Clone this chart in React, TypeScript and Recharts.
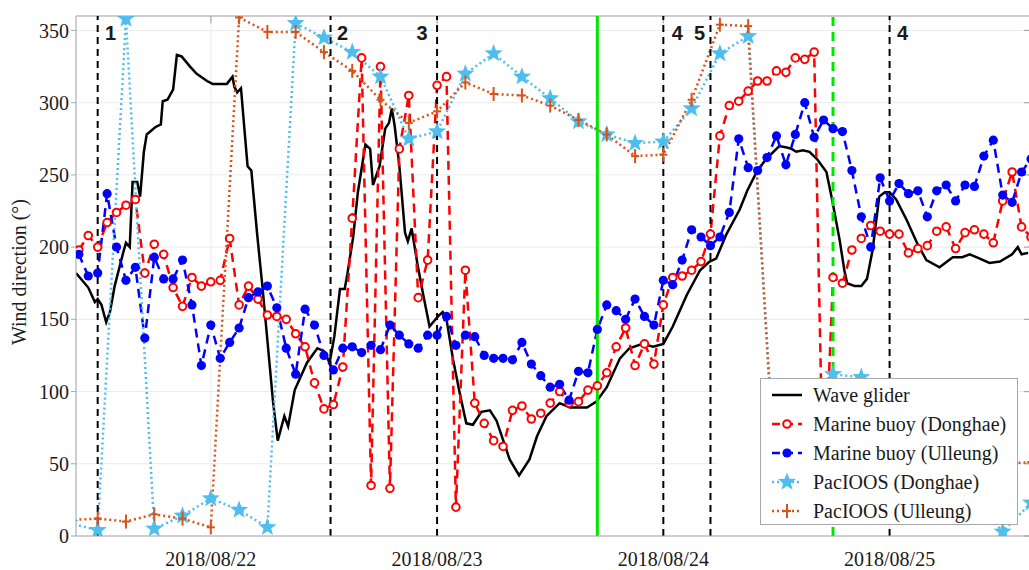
import React from "react";
import { CartesianGrid, Line, LineChart, ReferenceLine, XAxis, YAxis } from "recharts";

// time axis: hours after 2018/08/22 00:00
const dayTicks = [0, 24, 48, 72];
const dayLabels = ["2018/08/22", "2018/08/23", "2018/08/24", "2018/08/25"];
const dirTicks = [0, 50, 100, 150, 200, 250, 300, 350];

const gliderHours = [
  -14.3, -13.0, -12.3, -12.0, -11.6, -11.1, -10.7, -10.2, -9.3, -9.0,
  -8.6, -8.3, -7.8, -7.5, -7.1, -6.8, -5.9, -5.3, -5.1, -4.6,
  -4.0, -3.6, -3.1, -2.2, -1.5, -0.4, 0.2, 1.0, 1.7, 2.3,
  2.5, 2.8, 3.2, 3.6, 3.9, 4.3, 4.9, 5.5, 6.6, 7.1,
  7.8, 8.2, 8.9, 10.2, 11.3, 12.0, 12.6, 13.1, 13.7, 14.2,
  14.5, 15.1, 15.6, 16.4, 16.9, 17.2, 17.9, 18.5, 18.9, 19.2,
  19.5, 20.0, 20.6, 20.9, 21.3, 21.9, 22.5, 23.2, 24.1, 24.6,
  25.0, 25.7, 26.4, 27.1, 27.8, 28.7, 29.6, 30.3, 31.7, 32.7,
  33.8, 34.6, 35.6, 37.0, 38.1, 39.1, 39.9, 40.9, 42.0, 43.4,
  44.4, 45.8, 46.9, 48.0, 49.0, 50.5, 51.9, 52.9, 53.6, 54.7,
  56.1, 56.9, 57.9, 58.9, 60.3, 61.1, 61.6, 62.1, 62.8, 63.5,
  64.3, 65.3, 65.9, 66.7, 67.2, 67.5, 68.3, 69.0, 69.6, 70.2,
  70.9, 71.5, 72.0, 72.7, 73.8, 74.9, 75.9, 77.3, 78.7, 79.7,
  80.5, 81.2, 82.6, 83.7, 85.0, 85.6, 86.0, 86.7
];
const gliderDir = [
  182, 172, 162, 164, 160, 148, 155, 173, 196, 203,
  200, 245, 245, 235, 266, 278, 283, 285, 301, 302,
  309, 333, 332, 325, 320, 315, 313, 313, 313, 318,
  311, 307, 310, 279, 256, 253, 210, 171, 93, 66,
  83, 76, 101, 120, 130, 128, 120, 138, 171, 171,
  182, 207, 238, 271, 268, 243, 256, 282, 286, 296,
  284, 256, 210, 204, 213, 189, 168, 145, 152, 155,
  150, 122, 99, 78, 77, 86, 87, 80, 53, 42,
  53, 69, 83, 92, 89, 89, 89, 93, 103, 123,
  130, 133, 131, 133, 145, 167, 184, 190, 192, 209,
  226, 239, 252, 261, 270, 269, 268, 266, 267, 266,
  261, 252, 233, 205, 184, 175, 173, 173, 178, 198,
  235, 238, 238, 233, 219, 203, 191, 186, 193, 193,
  195, 193, 189, 190, 195, 200, 195, 196
];

// hourly buoy records, first one at 2018/08/21 10:00
const buoyStart = -14;
const buoyDonghae = [
  198, 208, 200, 217, 224, 229, 233, 182, 202, 195,
  172, 159, 179, 173, 176, 177, 206, 160, 173, 164,
  153, 152, 150, 140, 131, 106, 88, 91, 117, 220,
  331, 35, 325, 33, 268, 305, 165, 191, 312, 318,
  20, 184, 92, 78, 66, 62, 87, 90, 81, 85,
  92, 100, 92, 93, 101, 104, 113, 131, 144, 118,
  133, 119, 160, 179, 180, 184, 190, 209, 277, 298,
  301, 308, 315, 315, 322, 321, 331, 330, 335, 20,
  179, 175, 198, 206, 215, 211, 209, 209, 196, 199,
  201, 211, 214, 199, 210, 212, 209, 203, 232, 252,
  214, 207
];
const buoyUlleung = [
  195, 180, 182, 237, 200, 177, 186, 137, 193, 178,
  178, 191, 160, 118, 146, 123, 134, 144, 165, 169,
  173, 158, 130, 112, 157, 146, 125, 115, 130, 131,
  127, 132, 129, 146, 139, 133, 130, 139, 139, 152,
  132, 139, 138, 125, 123, 123, 122, 134, 119, 111,
  103, 105, 94, 114, 113, 143, 160, 156, 150, 164,
  152, 146, 177, 174, 191, 212, 207, 201, 207, 224,
  275, 255, 253, 262, 277, 257, 278, 300, 276, 288,
  282, 280, 253, 221, 200, 248, 232, 244, 237, 239,
  221, 239, 243, 232, 243, 242, 263, 274, 236, 231,
  252, 261
];

// 3-hourly PacIOOS model output, first one at 2018/08/21 09:00
const modelStart = -15;
const pacDonghae = [
  9, 4, 358, 5, 14, 26, 18, 6, 355, 345,
  335, 318, 275, 280, 320, 334, 318, 303, 287, 278,
  272, 273, 296, 334, 346, 30, 80, 112, 110, 95,
  75, 50, 25, 3, 23
];
const pacUlleung = [
  11, 12, 10, 15, 12, 6, 359, 349, 349, 335,
  322, 302, 286, 294, 314, 306, 305, 298, 288, 278,
  263, 264, 302, 354, 353, 20, 35, 45, 50, 48,
  52, 50, 48, 50, 51
];

// event markers
const events = [
  { h: -12, label: "1", dx: 13 },
  { h: 12.7, label: "2", dx: 12 },
  { h: 24, label: "3", dx: -15 },
  { h: 48, label: "4", dx: 14 },
  { h: 53, label: "5", dx: -11 },
  { h: 72, label: "4", dx: 13 }
];
const greenSolidHour = 41;
const greenDashHour = 66;

const X_MIN = -14.3;
const X_MAX = 87;
const Y_MAX = 360;

const RED = "#ff0000";
const BLUE = "#0000ff";
const CYAN = "#4dbeee";
const ORANGE = "#d95319";
const AXIS = "#a8a8a8";
const SERIF = "'Liberation Serif', 'Times New Roman', serif";

const glider = gliderHours.map((h, i) => ({ h, v: gliderDir[i] }));
const donghae = buoyDonghae.map((v, i) => ({ h: buoyStart + i, v }));
const ulleung = buoyUlleung.map((v, i) => ({ h: buoyStart + i, v }));
const pacD = pacDonghae.map((v, i) => ({ h: modelStart + 3 * i, v }));
const pacU = pacUlleung.map((v, i) => ({ h: modelStart + 3 * i, v }));

function starPoints(cx: number, cy: number, r: number) {
  const pts: string[] = [];
  for (let i = 0; i < 10; i++) {
    const rad = i % 2 === 0 ? r : r * 0.42;
    const a = -Math.PI / 2 + (i * Math.PI) / 5;
    pts.push(`${cx + rad * Math.cos(a)},${cy + rad * Math.sin(a)}`);
  }
  return pts.join(" ");
}

const openCircle = (p: any) =>
  p.cx == null ? <g key={`oc-${p.index}`} /> : (
    <circle key={`oc-${p.index}`} cx={p.cx} cy={p.cy} r={3.8} fill="#fff" stroke={RED} strokeWidth={2} />
  );
const filledCircle = (p: any) =>
  p.cx == null ? <g key={`fc-${p.index}`} /> : (
    <circle key={`fc-${p.index}`} cx={p.cx} cy={p.cy} r={4.6} fill={BLUE} />
  );
const star = (p: any) =>
  p.cx == null ? <g key={`st-${p.index}`} /> : (
    <polygon key={`st-${p.index}`} points={starPoints(p.cx, p.cy, 9.5)} fill={CYAN} />
  );
const plus = (p: any) =>
  p.cx == null ? <g key={`pl-${p.index}`} /> : (
    <g key={`pl-${p.index}`} stroke={ORANGE} strokeWidth={2}>
      <line x1={p.cx} y1={p.cy - 7} x2={p.cx} y2={p.cy + 7} />
      <line x1={p.cx - 4} y1={p.cy} x2={p.cx + 4} y2={p.cy} />
    </g>
  );

const EventLabel = ({ viewBox, text, dx }: any) => (
  <text
    x={(viewBox?.x ?? 0) + dx}
    y={(viewBox?.y ?? 16) + 24}
    textAnchor="middle"
    fontFamily="'Liberation Sans', Arial, sans-serif"
    fontWeight="bold"
    fontSize={20}
    fill="#1a1a1a"
  >
    {text}
  </text>
);

const legendRows = [
  { name: "Wave glider", stroke: "#000", dash: undefined, marker: "none" },
  { name: "Marine buoy (Donghae)", stroke: RED, dash: "8 5", marker: "open" },
  { name: "Marine buoy (Ulleung)", stroke: BLUE, dash: "8 5", marker: "filled" },
  { name: "PacIOOS (Donghae)", stroke: CYAN, dash: "2 3", marker: "star" },
  { name: "PacIOOS (Ulleung)", stroke: ORANGE, dash: "2 3", marker: "plus" }
];

function LegendBox() {
  return (
    <>
      <div style={{ position: "absolute", left: 718, top: 378, width: 300, height: 147, background: "#fff" }} />
      <div
        style={{
          position: "absolute",
          left: 760,
          top: 378,
          width: 256,
          height: 145,
          border: `1px solid ${AXIS}`,
          background: "#fff"
        }}
      >
        <svg width={256} height={145}>
          {legendRows.map((row, i) => {
            const y = 16 + i * 29;
            return (
              <g key={row.name}>
                <line x1={11} x2={41} y1={y} y2={y} stroke={row.stroke} strokeWidth={2.5} strokeDasharray={row.dash} />
                {row.marker === "open" ? <circle cx={26} cy={y} r={3.8} fill="#fff" stroke={RED} strokeWidth={2} /> : null}
                {row.marker === "filled" ? <circle cx={26} cy={y} r={4.6} fill={BLUE} /> : null}
                {row.marker === "star" ? <polygon points={starPoints(26, y, 9.5)} fill={CYAN} /> : null}
                {row.marker === "plus" ? (
                  <g stroke={ORANGE} strokeWidth={2}>
                    <line x1={26} y1={y - 7} x2={26} y2={y + 7} />
                    <line x1={22} y1={y} x2={30} y2={y} />
                  </g>
                ) : null}
                <text x={52} y={y + 7} fontFamily={SERIF} fontSize={20} fill="#1a1a1a">
                  {row.name}
                </text>
              </g>
            );
          })}
        </svg>
      </div>
    </>
  );
}

export default function App() {
  return (
    <div style={{ position: "absolute", left: 0, top: 0, width: 1029, height: 570, overflow: "hidden", background: "#fff" }}>
      <LineChart width={1031} height={570} margin={{ top: 16, right: 0, bottom: 0, left: 16 }}>
        <CartesianGrid stroke="#ebebeb" strokeWidth={1} />
        <XAxis
          type="number"
          dataKey="h"
          domain={[X_MIN, X_MAX]}
          allowDataOverflow
          ticks={dayTicks}
          tickFormatter={(v: number) => dayLabels[dayTicks.indexOf(v)] ?? ""}
          height={34}
          axisLine={{ stroke: AXIS }}
          tickLine={false}
          tickSize={0}
          tickMargin={16}
          tick={{ fontSize: 20, fill: "#1a1a1a", fontFamily: SERIF }}
        />
        <YAxis
          type="number"
          domain={[0, Y_MAX]}
          allowDataOverflow
          ticks={dirTicks}
          width={60}
          axisLine={{ stroke: AXIS }}
          tickLine={{ stroke: AXIS }}
          tickSize={5}
          tickMargin={2}
          tick={{ fontSize: 20, fill: "#1a1a1a", fontFamily: SERIF }}
        />
        <ReferenceLine y={Y_MAX} stroke={AXIS} strokeWidth={1} />
        {dirTicks.map((t) => (
          <ReferenceLine
            key={`rt-${t}`}
            segment={[{ x: X_MAX - 0.75, y: t }, { x: X_MAX, y: t }]}
            stroke={AXIS}
            strokeWidth={1.2}
          />
        ))}
        {dayTicks.map((t) => (
          <ReferenceLine
            key={`tt-${t}`}
            segment={[{ x: t, y: Y_MAX }, { x: t, y: Y_MAX - 5 }]}
            stroke={AXIS}
            strokeWidth={1.2}
          />
        ))}
        <Line
          data={glider}
          dataKey="v"
          type="linear"
          stroke="#000"
          strokeWidth={2.5}
          dot={false}
          activeDot={false}
          isAnimationActive={false}
        />
        <Line
          data={donghae}
          dataKey="v"
          type="linear"
          stroke={RED}
          strokeWidth={2.5}
          strokeDasharray="9 6"
          dot={openCircle}
          activeDot={false}
          isAnimationActive={false}
        />
        <Line
          data={ulleung}
          dataKey="v"
          type="linear"
          stroke={BLUE}
          strokeWidth={2.5}
          strokeDasharray="9 6"
          dot={filledCircle}
          activeDot={false}
          isAnimationActive={false}
        />
        <Line
          data={pacD}
          dataKey="v"
          type="linear"
          stroke={CYAN}
          strokeWidth={2.5}
          strokeDasharray="2 3"
          dot={star}
          activeDot={false}
          isAnimationActive={false}
        />
        <Line
          data={pacU}
          dataKey="v"
          type="linear"
          stroke={ORANGE}
          strokeWidth={2.5}
          strokeDasharray="2 3"
          dot={plus}
          activeDot={false}
          isAnimationActive={false}
        />
        {events.map((e, i) => (
          <ReferenceLine
            key={`ev-${i}`}
            x={e.h}
            stroke="#000"
            strokeWidth={2}
            strokeDasharray="7 5"
            label={<EventLabel text={e.label} dx={e.dx} />}
          />
        ))}
        <ReferenceLine x={greenSolidHour} stroke="#00e600" strokeWidth={3} />
        <ReferenceLine x={greenDashHour} stroke="#00e600" strokeWidth={3} strokeDasharray="9 6" />
      </LineChart>
      <svg width={40} height={570} style={{ position: "absolute", left: 0, top: 0 }}>
        <text x={26} y={272} transform="rotate(-90 26 272)" textAnchor="middle" fontFamily={SERIF} fontSize={20} fill="#1a1a1a">
          Wind direction (°)
        </text>
      </svg>
      <LegendBox />
    </div>
  );
}
